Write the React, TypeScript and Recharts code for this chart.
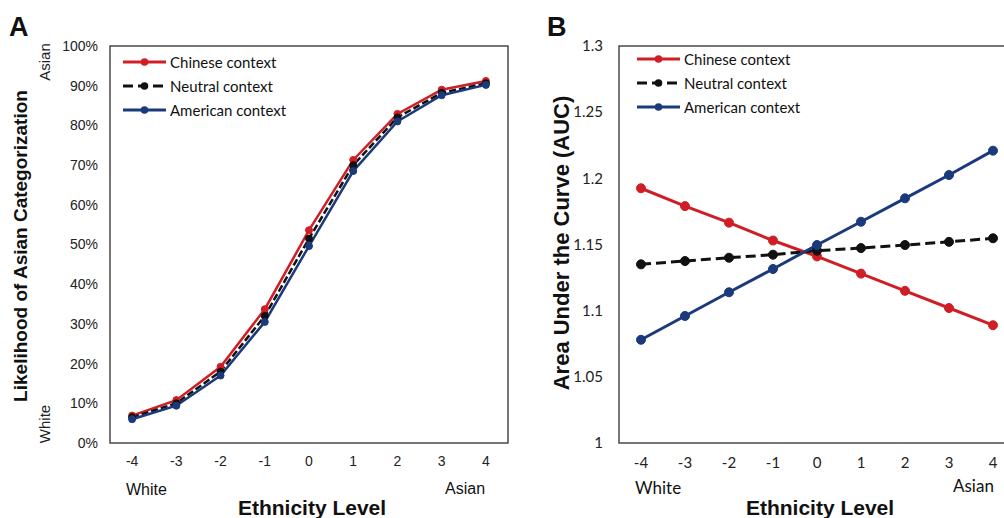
import { Legend, Line, LineChart, ReferenceArea, XAxis, YAxis } from 'recharts';

const levels = [-4, -3, -2, -1, 0, 1, 2, 3, 4];

// Panel A: likelihood of Asian categorization (%)
const chineseA = [6.9, 10.8, 19.2, 33.7, 53.6, 71.3, 82.9, 89.0, 91.2];
const neutralA = [6.5, 10.0, 18.0, 32.0, 51.5, 70.0, 82.0, 88.2, 90.6];
const americanA = [6.0, 9.4, 17.0, 30.5, 49.6, 68.5, 81.0, 87.6, 90.2];

// Panel B: area under the curve
const chineseB = [1.1925, 1.179, 1.1665, 1.153, 1.141, 1.128, 1.115, 1.102, 1.089];
const neutralB = [1.135, 1.1375, 1.14, 1.1423, 1.1453, 1.1473, 1.1496, 1.152, 1.1547];
const americanB = [1.078, 1.096, 1.1139, 1.1315, 1.1496, 1.1672, 1.1849, 1.2025, 1.2209];

const yTicksA = [0, 10, 20, 30, 40, 50, 60, 70, 80, 90, 100];
const yTicksB = [1, 1.05, 1.1, 1.15, 1.2, 1.25, 1.3];

const seriesNames = ['Chinese context', 'Neutral context', 'American context'];

const RED = '#D01E26';
const NAVY = '#1B3A7C';
const BLACK = '#111111';
const seriesColors = [RED, BLACK, NAVY];

const dataA = levels.map((level, i) => ({
  level,
  chinese: chineseA[i],
  neutral: neutralA[i],
  american: americanA[i],
}));

const dataB = levels.map((level, i) => ({
  level,
  chinese: chineseB[i],
  neutral: neutralB[i],
  american: americanB[i],
}));

const ARIAL = '"Liberation Sans", Arial, sans-serif';
const CALIBRI = 'Lato, "Open Sans", sans-serif';

// legend in the fixed series order (Chinese, Neutral, American)
function ContextLegend() {
  return (
    <svg width={200} height={76} style={{ display: 'block', overflow: 'visible' }}>
      {seriesNames.map((name, i) => {
        const y = 6 + i * 24;
        const color = seriesColors[i];
        return (
          <g key={name}>
            <line x1={0} x2={43} y1={y} y2={y} stroke={color} strokeWidth={3} strokeDasharray={i === 1 ? '10 5' : undefined} />
            <circle cx={21.5} cy={y} r={3.8} fill={color} />
            <text x={47} y={y + 5.5} fontFamily={CALIBRI} fontSize={15} fill="#111">
              {name}
            </text>
          </g>
        );
      })}
    </svg>
  );
}

function PanelA() {
  return (
    <LineChart width={520} height={518} data={dataA} margin={{ top: 46, left: 60, right: 12, bottom: 45 }}>
      <ReferenceArea x1={-4.5} x2={4.5} y1={0} y2={100} fill="none" stroke="#4a4a4a" strokeWidth={1.5} />
      <XAxis
        type="number"
        dataKey="level"
        domain={[-4.5, 4.5]}
        ticks={levels}
        height={30}
        axisLine={false}
        tickLine={false}
        tickSize={0}
        tickMargin={13}
        tick={{ fill: '#222', fontSize: 14, fontFamily: ARIAL }}
      />
      <YAxis
        type="number"
        domain={[0, 100]}
        ticks={yTicksA}
        width={50}
        axisLine={false}
        tickLine={false}
        tickSize={0}
        tickMargin={12}
        tickFormatter={(v) => `${v}%`}
        tick={{ fill: '#222', fontSize: 14, fontFamily: ARIAL }}
      />
      <Legend
        layout="vertical"
        align="center"
        verticalAlign="middle"
        wrapperStyle={{ left: 123, top: 56, width: 200 }}
        content={<ContextLegend />}
      />
      <Line name={seriesNames[0]} dataKey="chinese" stroke={RED} strokeWidth={2.5} dot={{ r: 3.5, fill: RED, stroke: RED, strokeWidth: 1 }} isAnimationActive={false} />
      <Line name={seriesNames[1]} dataKey="neutral" stroke={BLACK} strokeWidth={2.5} strokeDasharray="7 3" dot={{ r: 3.5, fill: BLACK, stroke: BLACK, strokeWidth: 1, strokeDasharray: '' }} isAnimationActive={false} />
      <Line name={seriesNames[2]} dataKey="american" stroke={NAVY} strokeWidth={2.5} dot={{ r: 3.5, fill: NAVY, stroke: NAVY, strokeWidth: 1 }} isAnimationActive={false} />
    </LineChart>
  );
}

function PanelB() {
  return (
    <LineChart width={520} height={518} data={dataB} margin={{ top: 46, left: 49, right: 25, bottom: 45 }}>
      <ReferenceArea x1={-4.5} x2={4.5} y1={1} y2={1.3} fill="none" stroke="#4a4a4a" strokeWidth={1.5} />
      <XAxis
        type="number"
        dataKey="level"
        domain={[-4.5, 4.5]}
        ticks={levels}
        height={30}
        axisLine={false}
        tickLine={false}
        tickSize={0}
        tickMargin={14}
        tick={{ fill: '#222', fontSize: 15, fontFamily: CALIBRI }}
      />
      <YAxis
        type="number"
        domain={[1, 1.3]}
        ticks={yTicksB}
        width={50}
        axisLine={false}
        tickLine={false}
        tickSize={0}
        tickMargin={16}
        tickFormatter={(v) => String(Number(Number(v).toFixed(2)))}
        tick={{ fill: '#222', fontSize: 15, fontFamily: CALIBRI }}
      />
      <Legend
        layout="vertical"
        align="center"
        verticalAlign="middle"
        wrapperStyle={{ left: 117, top: 53, width: 200 }}
        content={<ContextLegend />}
      />
      <Line name={seriesNames[0]} dataKey="chinese" stroke={RED} strokeWidth={3} dot={{ r: 4.5, fill: RED, stroke: RED, strokeWidth: 1 }} isAnimationActive={false} />
      <Line name={seriesNames[1]} dataKey="neutral" stroke={BLACK} strokeWidth={3} strokeDasharray="10 5" dot={{ r: 4.5, fill: BLACK, stroke: BLACK, strokeWidth: 1, strokeDasharray: '' }} isAnimationActive={false} />
      <Line name={seriesNames[2]} dataKey="american" stroke={NAVY} strokeWidth={3} dot={{ r: 4.5, fill: NAVY, stroke: NAVY, strokeWidth: 1 }} isAnimationActive={false} />
    </LineChart>
  );
}

export default function App() {
  return (
    <div style={{ position: 'absolute', left: 0, top: 0, width: 1004, height: 518, overflow: 'hidden', background: '#fff' }}>
      <div style={{ position: 'absolute', left: 0, top: 0 }}>
        <PanelA />
      </div>
      <div style={{ position: 'absolute', left: 520, top: 0 }}>
        <PanelB />
      </div>
      <svg width={1004} height={518} style={{ position: 'absolute', left: 0, top: 0, pointerEvents: 'none' }}>
        <text x={9} y={36} fontFamily={ARIAL} fontWeight="bold" fontSize={27} fill="#111">A</text>
        <text x={547} y={36} fontFamily={ARIAL} fontWeight="bold" fontSize={27} fill="#111">B</text>

        <text transform="translate(27,246) rotate(-90)" textAnchor="middle" fontFamily={ARIAL} fontWeight="bold" fontSize={19} fill="#111">
          Likelihood of Asian Categorization
        </text>
        <text transform="translate(50,62) rotate(-90)" textAnchor="middle" fontFamily={ARIAL} fontSize={15} fill="#222">Asian</text>
        <text transform="translate(50,424) rotate(-90)" textAnchor="middle" fontFamily={ARIAL} fontSize={15} fill="#222">White</text>

        <text transform="translate(569,243) rotate(-90)" textAnchor="middle" fontFamily={ARIAL} fontWeight="bold" fontSize={22} fill="#111">
          Area Under the Curve (AUC)
        </text>

        <text x={126} y={495} fontFamily={ARIAL} fontSize={16} fill="#111">White</text>
        <text x={445} y={494} fontFamily={ARIAL} fontSize={16} fill="#111">Asian</text>
        <text x={312} y={515} textAnchor="middle" fontFamily={ARIAL} fontWeight="bold" fontSize={21} fill="#111">Ethnicity Level</text>

        <text x={635} y={494} fontFamily={CALIBRI} fontSize={17} fill="#111">White</text>
        <text x={953} y={492} fontFamily={CALIBRI} fontSize={17} fill="#111">Asian</text>
        <text x={820} y={515} textAnchor="middle" fontFamily={ARIAL} fontWeight="bold" fontSize={21} fill="#111">Ethnicity Level</text>
      </svg>
    </div>
  );
}
